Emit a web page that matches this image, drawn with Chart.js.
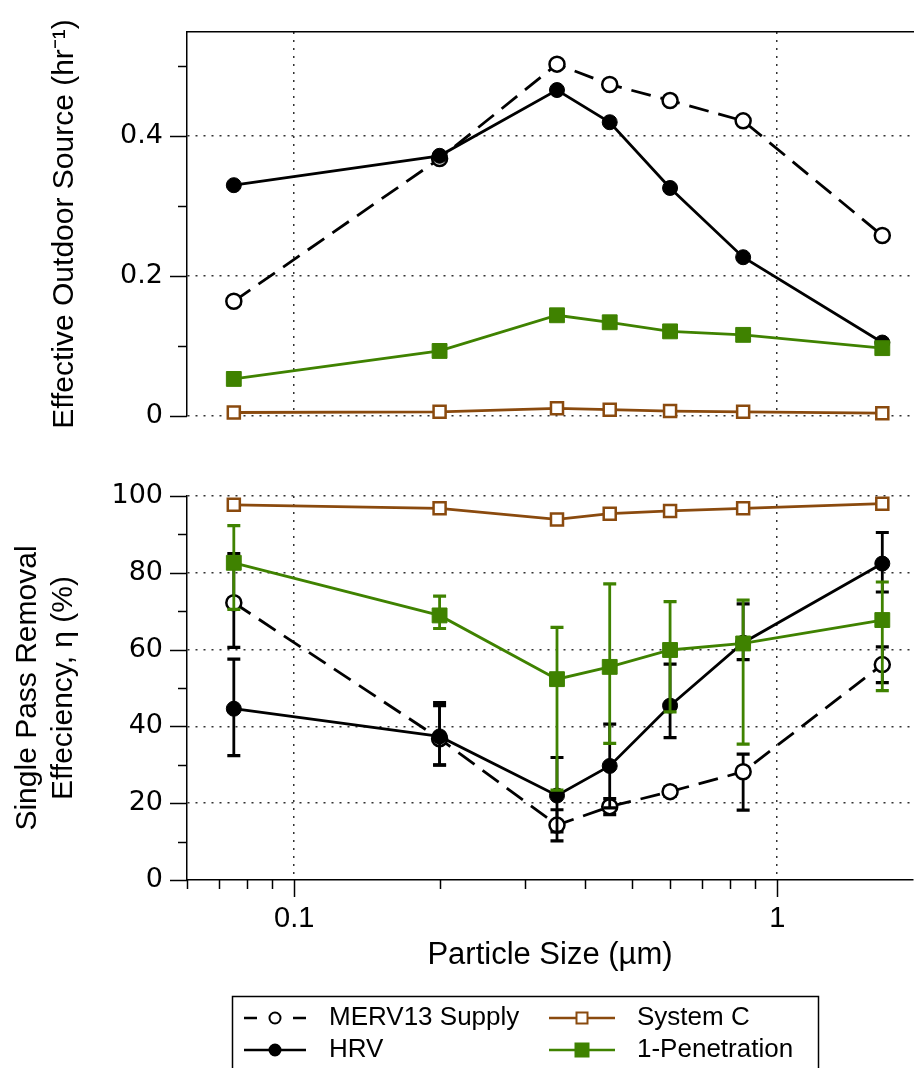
<!DOCTYPE html>
<html><head><meta charset="utf-8">
<script src="https://cdn.jsdelivr.net/npm/chart.js@4.4.1/dist/chart.umd.min.js"></script>
<style>
html,body{margin:0;padding:0;background:#fff;}
#wrap{position:relative;width:914px;height:1068px;overflow:hidden;background:#fff;}
#c1{position:absolute;left:0;top:0;}
#c2{position:absolute;left:0;top:440px;}
</style></head><body>
<div id="wrap">
<canvas id="c1" width="914" height="440"></canvas>
<canvas id="c2" width="914" height="628"></canvas>
</div>
<script>
// ---------- data ----------
const particleSize = [0.075, 0.2, 0.35, 0.45, 0.6, 0.85, 1.65];
const seriesNames = ['MERV13 Supply', 'HRV', 'System C', '1-Penetration'];

// Effective outdoor source (hr^-1)
const mervSource = [0.164, 0.368, 0.503, 0.474, 0.451, 0.422, 0.258];
const hrvSource  = [0.330, 0.372, 0.466, 0.420, 0.326, 0.227, 0.105];
const sysCSource = [0.005, 0.006, 0.011, 0.009, 0.007, 0.006, 0.004];
const penSource  = [0.053, 0.093, 0.144, 0.134, 0.121, 0.116, 0.097];

// Single pass removal efficiency (%)
const mervEff  = [72.2, 36.8, 14.3, 19.1, 23.0, 28.2, 56.1];
const mervLow  = [60.6, 29.9, 10.2, 17.0, 21.8, 18.2, 51.4];
const mervHigh = [85.0, 46.2, 18.3, 21.2, 24.2, 32.8, 60.7];
const hrvEff   = [44.6, 37.4, 22.0, 29.7, 45.4, 61.8, 82.4];
const hrvLow   = [32.4, 30.0, 12.5, 18.8, 37.1, 57.4, 75.0];
const hrvHigh  = [57.5, 45.4, 31.9, 40.6, 56.2, 71.9, 90.5];
const sysCEff  = [97.7, 96.8, 93.9, 95.4, 96.1, 96.8, 98.0];
const penEff   = [82.6, 68.9, 52.3, 55.5, 59.9, 61.6, 67.7];
const penLow   = [70.5, 65.5, 23.4, 35.6, 43.8, 35.4, 49.3];
const penHigh  = [92.3, 73.9, 65.8, 77.1, 72.5, 72.9, 77.6];

// ticks
const xMajorTicks = [0.1, 1];
const xTickLabels = ['0.1', '1'];
const xMinorTicks = [0.06, 0.07, 0.08, 0.09, 0.2, 0.3, 0.4, 0.5, 0.6, 0.7, 0.8, 0.9];
const sourceMajorTicks = [0, 0.2, 0.4];
const sourceTickLabels = ['0', '0.2', '0.4'];
const sourceMinorTicks = [0.1, 0.3, 0.5];
const effMajorTicks = [0, 20, 40, 60, 80, 100];
const effTickLabels = ['0', '20', '40', '60', '80', '100'];
const effMinorTicks = [10, 30, 50, 70, 90];
const xRange = [0.06, 1.91];
const sourceRange = [0, 0.549];
const effRange = [0, 100];

// ---------- styles ----------
const BLACK = '#000000', BROWN = '#8a4a0e', GREEN = '#3f8200', GRID = '#333333';
const LW = 2.8;
const pts = ys => particleSize.map((x, i) => ({x: x, y: ys[i]}));

function makeDatasets(m, h, s, p, errs) {
  const ds = [
    {label: seriesNames[0], data: pts(m), borderColor: BLACK, borderWidth: LW, borderDash: [20, 10],
     pointStyle: 'circle', pointRadius: 7.5, pointBackgroundColor: '#fff', pointBorderColor: BLACK, pointBorderWidth: 2.5, order: 3},
    {label: seriesNames[1], data: pts(h), borderColor: BLACK, borderWidth: LW,
     pointStyle: 'circle', pointRadius: 7.5, pointBackgroundColor: BLACK, pointBorderColor: BLACK, pointBorderWidth: 1, order: 2},
    {label: seriesNames[2], data: pts(s), borderColor: BROWN, borderWidth: LW,
     pointStyle: 'rect', pointRadius: 8.5, pointBackgroundColor: '#fff', pointBorderColor: BROWN, pointBorderWidth: 2.5, order: 4},
    {label: seriesNames[3], data: pts(p), borderColor: GREEN, borderWidth: LW,
     pointStyle: 'rect', pointRadius: 10.5, pointBackgroundColor: GREEN, pointBorderColor: GREEN, pointBorderWidth: 1, order: 1}
  ];
  ds.forEach(d => { d.showLine = true; d.tension = 0; d.pointHoverRadius = d.pointRadius; d.clip = false; });
  if (errs) {
    ds[0].errLow = errs[0][0]; ds[0].errHigh = errs[0][1];
    ds[1].errLow = errs[1][0]; ds[1].errHigh = errs[1][1];
    ds[3].errLow = errs[3][0]; ds[3].errHigh = errs[3][1];
  }
  return ds;
}

// ---------- plugins ----------
const errorBars = {
  id: 'errorBars',
  beforeDatasetDraw(chart, args) {
    const ds = chart.data.datasets[args.index];
    if (!ds.errLow) return;
    const ctx = chart.ctx, xs = chart.scales.x, ys = chart.scales.y;
    ctx.save();
    ctx.strokeStyle = ds.borderColor;
    ds.errLow.forEach((lo, i) => {
      const hi = ds.errHigh[i];
      const px = xs.getPixelForValue(ds.data[i].x);
      const pl = ys.getPixelForValue(lo), ph = ys.getPixelForValue(hi);
      ctx.lineWidth = 2.8;
      ctx.beginPath(); ctx.moveTo(px, pl); ctx.lineTo(px, ph); ctx.stroke();
      ctx.lineWidth = 3.2;
      ctx.beginPath();
      ctx.moveTo(px - 6.5, pl); ctx.lineTo(px + 6.5, pl);
      ctx.moveTo(px - 6.5, ph); ctx.lineTo(px + 6.5, ph);
      ctx.stroke();
    });
    ctx.restore();
  }
};

const tickMarks = {
  id: 'tickMarks',
  afterDraw(chart, args, o) {
    if (!o || !o.yMajor) return;
    const ctx = chart.ctx;
    ctx.save();
    ctx.strokeStyle = BLACK; ctx.lineWidth = 1.5;
    const y = chart.scales.y;
    const hl = (v, len) => { const p = Math.round(y.getPixelForValue(v)) + 0.5; ctx.beginPath(); ctx.moveTo(y.right - len, p); ctx.lineTo(y.right, p); ctx.stroke(); };
    o.yMajor.forEach(v => hl(v, 17));
    o.yMinor.forEach(v => hl(v, 9));
    if (o.xMajor) {
      const x = chart.scales.x;
      const vl = (v, len) => { const p = Math.round(x.getPixelForValue(v)) + 0.5; ctx.beginPath(); ctx.moveTo(p, x.top); ctx.lineTo(p, x.top + len); ctx.stroke(); };
      o.xMajor.forEach(v => vl(v, 17));
      o.xMinor.forEach(v => vl(v, 9));
    }
    ctx.restore();
  }
};

const legendBox = {
  id: 'legendBox',
  afterDraw(chart, args, o) {
    if (!o || !o.items) return;
    const ctx = chart.ctx;
    ctx.save();
    ctx.strokeStyle = BLACK; ctx.lineWidth = 1.5;
    ctx.strokeRect(o.left + 0.5, o.top + 0.5, o.width, 200);
    ctx.font = '26px "Liberation Sans", Arial, sans-serif';
    ctx.textBaseline = 'middle'; ctx.textAlign = 'left'; ctx.fillStyle = BLACK;
    o.items.forEach(it => {
      const ds = chart.data.datasets[it.ds];
      const c = o.cols[it.col], yy = o.rows[it.row];
      const mid = (c.x1 + c.x2) / 2;
      ctx.strokeStyle = ds.borderColor; ctx.lineWidth = 2.5;
      ctx.beginPath();
      if (ds.borderDash) {
        ctx.moveTo(c.x1, yy); ctx.lineTo(c.x1 + 13, yy);
        ctx.moveTo(c.x2 - 13, yy); ctx.lineTo(c.x2, yy);
      } else {
        ctx.moveTo(c.x1, yy); ctx.lineTo(c.x2, yy);
      }
      ctx.stroke();
      ctx.fillStyle = ds.pointBackgroundColor;
      ctx.strokeStyle = ds.pointBorderColor;
      ctx.lineWidth = 2;
      if (ds.pointStyle === 'circle') {
        ctx.beginPath(); ctx.arc(mid, yy, 5.5, 0, Math.PI * 2); ctx.fill(); ctx.stroke();
      } else {
        const s = ds.pointBackgroundColor === '#fff' ? 11 : 13;
        ctx.fillRect(mid - s / 2, yy - s / 2, s, s);
        ctx.strokeRect(mid - s / 2, yy - s / 2, s, s);
      }
      ctx.fillStyle = BLACK;
      ctx.fillText(ds.label, c.text, yy);
    });
    ctx.restore();
  }
};

Chart.register(errorBars, tickMarks, legendBox);

const gridColorFor = list => ctx => (ctx.tick && list.includes(ctx.tick.value)) ? GRID : 'rgba(0,0,0,0)';
const setTicks = list => scale => { scale.ticks = list.map(v => ({value: v})); };
const labelFor = (list, labels) => v => { const i = list.indexOf(v); return i >= 0 ? labels[i] : ''; };
const noPad = s => { s.paddingTop = 0; s.paddingBottom = 0; s.paddingLeft = 0; s.paddingRight = 0; };
const TITLE_FONT = {family: '"Liberation Sans", Arial, sans-serif', size: 30};
const XTITLE_FONT = {family: '"Liberation Sans", Arial, sans-serif', size: 31};
const YTICK_FONT = {family: '"DejaVu Sans", sans-serif', size: 27};
const XTICK_FONT = {family: '"Liberation Sans", Arial, sans-serif', size: 29};

// ---------- top chart ----------
new Chart(document.getElementById('c1'), {
  type: 'scatter',
  data: {datasets: makeDatasets(mervSource, hrvSource, sysCSource, penSource)},
  options: {
    responsive: false, animation: false, events: [],
    layout: {autoPadding: false, padding: {left: 47, top: 32, right: 1, bottom: 24}},
    plugins: {legend: {display: false}, tooltip: {enabled: false},
      tickMarks: {yMajor: sourceMajorTicks, yMinor: sourceMinorTicks}},
    scales: {
      x: {type: 'logarithmic', min: xRange[0], max: xRange[1], position: 'bottom',
        afterBuildTicks: setTicks(xMajorTicks), afterFit: s => { noPad(s); s.height = 0; },
        ticks: {display: false},
        grid: {color: gridColorFor(xMajorTicks), lineWidth: 1.5, drawTicks: false},
        border: {display: false, dash: [2, 6]}},
      x2: {type: 'linear', min: 0, max: 1, position: 'top', afterFit: s => { noPad(s); s.height = 0; },
        ticks: {display: false}, grid: {display: false, drawTicks: false},
        border: {display: true, color: BLACK, width: 1.5}},
      y: {type: 'linear', min: sourceRange[0], max: sourceRange[1], position: 'left',
        afterBuildTicks: setTicks(sourceMajorTicks.concat(sourceMinorTicks)),
        afterFit: s => { noPad(s); s.width = 140; },
        ticks: {callback: labelFor(sourceMajorTicks, sourceTickLabels), font: YTICK_FONT, color: BLACK, padding: 24, autoSkip: false},
        grid: {color: gridColorFor(sourceMajorTicks), lineWidth: 1.5, drawTicks: false},
        border: {display: true, color: BLACK, width: 1.5, dash: [2, 6]},
        title: {display: true, text: 'Effective Outdoor Source (hr\u207B\u00B9)', font: TITLE_FONT, color: BLACK, padding: 0}}
    }
  }
});

// ---------- bottom chart ----------
new Chart(document.getElementById('c2'), {
  type: 'scatter',
  data: {datasets: makeDatasets(mervEff, hrvEff, sysCEff, penEff,
    [[mervLow, mervHigh], [hrvLow, hrvHigh], null, [penLow, penHigh]])},
  options: {
    responsive: false, animation: false, events: [],
    layout: {autoPadding: false, padding: {left: 10, top: 56, right: 1, bottom: 94}},
    plugins: {legend: {display: false}, tooltip: {enabled: false},
      tickMarks: {yMajor: effMajorTicks, yMinor: effMinorTicks, xMajor: xMajorTicks, xMinor: xMinorTicks},
      legendBox: {left: 232, top: 556, width: 586,
        cols: [{x1: 244, x2: 306, text: 329}, {x1: 549, x2: 615, text: 637}],
        rows: [578, 610],
        items: [{ds: 0, col: 0, row: 0}, {ds: 2, col: 1, row: 0}, {ds: 1, col: 0, row: 1}, {ds: 3, col: 1, row: 1}]}},
    scales: {
      x: {type: 'logarithmic', min: xRange[0], max: xRange[1], position: 'bottom',
        afterBuildTicks: setTicks(xMajorTicks.concat(xMinorTicks)), afterFit: s => { noPad(s); s.height = 94; },
        ticks: {callback: labelFor(xMajorTicks, xTickLabels), font: XTICK_FONT, color: BLACK, padding: 22, autoSkip: false, maxRotation: 0},
        grid: {color: gridColorFor(xMajorTicks), lineWidth: 1.5, drawTicks: false},
        border: {display: true, color: BLACK, width: 1.5, dash: [2, 6]},
        title: {display: true, text: 'Particle Size (\u00B5m)', font: XTITLE_FONT, color: BLACK, padding: 0}},
      y: {type: 'linear', min: effRange[0], max: effRange[1], position: 'left',
        afterBuildTicks: setTicks(effMajorTicks.concat(effMinorTicks)),
        afterFit: s => { noPad(s); s.width = 177; },
        ticks: {callback: labelFor(effMajorTicks, effTickLabels), font: YTICK_FONT, color: BLACK, padding: 24, autoSkip: false},
        grid: {color: gridColorFor(effMajorTicks.slice(1)), lineWidth: 1.5, drawTicks: false},
        border: {display: true, color: BLACK, width: 1.5, dash: [2, 6]},
        title: {display: true, text: ['Single Pass Removal', 'Effeciency, \u03B7 (%)'], font: TITLE_FONT, color: BLACK, padding: 0}}
    }
  }
});
</script>
</body></html>
